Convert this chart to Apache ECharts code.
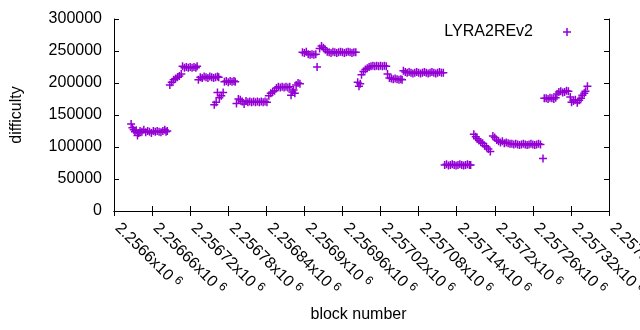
<!DOCTYPE html>
<html><head><meta charset="utf-8">
<script src="https://cdn.jsdelivr.net/npm/echarts@6/dist/echarts.min.js"></script>
<style>html,body{margin:0;padding:0;background:#fff}#c{width:640px;height:330px}</style>
</head><body><div id="c"></div>
<script>
const seriesName = 'LYRA2REv2';
const xTitle = 'block number';
const yTitle = 'difficulty';
const xMin = 2256600, xMax = 2257380, xStep = 60;
const yMin = 0, yMax = 300000, yStep = 50000;

const runA = [[2256627,136000],[2256629,130000],[2256631,127000],[2256633,124000],[2256635,126000],[2256637,118000],[2256639,122000],[2256641,125000],[2256644,124000],[2256647,127000],[2256650,123000],[2256653,125000],[2256656,124000],[2256659,122000],[2256662,125000],[2256665,124000],[2256668,125000],[2256671,124000],[2256674,123000],[2256677,125000],[2256680,127000],[2256682,124000],[2256684,125000]];
const runB = [[2256688,197000],[2256691,201000],[2256694,205000],[2256697,207000],[2256700,209000],[2256703,211000],[2256706,214000]];
const runC = [[2256708,226000],[2256711,224000],[2256714,225000],[2256717,224000],[2256720,225000],[2256723,224000],[2256726,225000],[2256729,224000],[2256731,226000]];
const runD = [[2256733,205000],[2256736,209000],[2256739,208000],[2256742,210000],[2256745,209000],[2256748,208000],[2256751,210000],[2256754,209000],[2256757,208000],[2256760,209000],[2256763,210000],[2256765,209000]];
const runF = [[2256758,166000],[2256761,170000],[2256763,185000],[2256766,177000],[2256769,180000],[2256772,185000]];
const runE = [[2256774,202000],[2256777,203000],[2256780,201000],[2256783,203000],[2256786,202000],[2256789,203000],[2256791,202000]];
const runG = [[2256793,168000],[2256796,175000],[2256799,174000],[2256802,171000],[2256805,167000],[2256808,172000],[2256811,170000],[2256814,171000],[2256817,170000],[2256820,171000],[2256823,170000],[2256826,171000],[2256829,170000],[2256832,171000],[2256835,170000],[2256838,171000],[2256841,170000]];
const runH = [[2256844,180000],[2256847,184000],[2256850,186000],[2256853,188000],[2256856,192000],[2256859,194000],[2256862,193000],[2256865,194000],[2256868,193000],[2256871,194000],[2256874,193000],[2256877,194000]];
const runH2 = [[2256879,181000],[2256881,186000],[2256883,189000],[2256885,184000],[2256887,197000],[2256890,200000],[2256893,199000]];
const runI = [[2256897,248000],[2256900,247000],[2256903,249000],[2256906,245000],[2256909,244000],[2256912,245000],[2256915,244000],[2256918,245000],[2256920,225000],[2256924,254000],[2256927,258000],[2256930,255000],[2256933,252000]];
const runI2 = [[2256936,249000],[2256939,248000],[2256942,247000],[2256945,249000],[2256948,248000],[2256951,247000],[2256954,248000],[2256957,249000],[2256960,248000],[2256963,247000],[2256966,248000],[2256969,249000],[2256972,248000],[2256975,247000],[2256978,248000],[2256981,248000]];
const runJ = [[2256984,201000],[2256986,195000],[2256988,199000]];
const runK = [[2256990,213000],[2256993,218000],[2256996,221000],[2256999,223000],[2257002,225000],[2257005,226000],[2257008,227000],[2257011,226000],[2257014,227000],[2257017,226000],[2257020,227000],[2257023,226000],[2257026,227000],[2257029,226000]];
const runL = [[2257031,214000],[2257034,208000],[2257037,207000],[2257040,206000],[2257043,207000],[2257046,206000],[2257049,205000],[2257052,206000],[2257054,205000]];
const runL2 = [[2257056,219000],[2257059,217000],[2257062,216000],[2257065,217000],[2257068,216000],[2257071,215000],[2257074,216000],[2257077,217000],[2257080,216000],[2257083,215000],[2257086,216000],[2257089,217000],[2257092,216000],[2257095,215000],[2257098,216000],[2257101,217000],[2257104,216000],[2257107,215000],[2257110,216000],[2257113,217000],[2257116,216000],[2257119,216000]];
const runM = [[2257121,72000],[2257124,73000],[2257127,71000],[2257130,72000],[2257133,73000],[2257136,72000],[2257139,71000],[2257142,72000],[2257145,73000],[2257148,72000],[2257151,71000],[2257154,72000],[2257157,73000],[2257160,72000],[2257162,72000]];
const runN = [[2257167,120000],[2257170,116000],[2257172,113000],[2257175,110000],[2257178,108000],[2257181,106000],[2257184,102000],[2257187,100000],[2257190,97000],[2257193,93000],[2257197,117000],[2257200,115000],[2257203,111000],[2257206,109000],[2257209,107000],[2257212,109000],[2257215,106000],[2257218,107000],[2257221,106000],[2257224,105000]];
const runN2 = [[2257227,105000],[2257230,104000],[2257233,105000],[2257236,104000],[2257239,103000],[2257242,104000],[2257245,105000],[2257248,104000],[2257251,103000],[2257254,104000],[2257257,105000],[2257260,104000],[2257263,103000],[2257266,104000],[2257269,105000],[2257272,104000],[2257276,82000]];
const runO = [[2257278,176000],[2257281,176000],[2257284,175000],[2257287,177000],[2257290,176000],[2257293,175000],[2257296,177000],[2257298,183000],[2257301,186000],[2257304,187000],[2257307,185000],[2257310,186000],[2257313,188000],[2257316,187000],[2257319,178000],[2257321,170000],[2257324,172000],[2257327,174000],[2257330,169000],[2257333,173000],[2257336,176000],[2257338,181000],[2257341,184000],[2257343,187000],[2257346,195000]];

const points = [].concat(runA, runB, runC, runD, runF, runE, runG, runH, runH2, runI, runI2, runJ, runK, runL, runL2, runM, runN, runN2, runO);

const FONT = 'Liberation Sans';
const PLUS = 'path://M3.25,0H4.75V3.25H8V4.75H4.75V8H3.25V4.75H0V3.25H3.25Z';
const COLOR = '#9400d3';

function xLabel(v) {
  const s = parseFloat((v / 1e6).toFixed(6)).toString();
  return '{m|' + s + 'x10}{e|6}';
}

const chart = echarts.init(document.getElementById('c'), null, {renderer: 'canvas'});
const tickStyle = {show: true, inside: true, length: 5, lineStyle: {color: '#000', width: 1}};
const lineStyle = {show: true, lineStyle: {color: '#000', width: 1}};
chart.setOption({
  animation: false,
  backgroundColor: '#fff',
  textStyle: {fontFamily: FONT},
  grid: {left: 114, right: 31, top: 19, bottom: 119, containLabel: false, outerBoundsMode: 'none'},
  legend: {
    data: [seriesName], right: 64, top: 19, align: 'right',
    icon: PLUS, itemWidth: 8, itemHeight: 8,
    textStyle: {fontFamily: FONT, fontSize: 16, color: '#000', padding: [0, 25, 0, 0]}
  },
  xAxis: [{
    type: 'value', min: xMin, max: xMax, interval: xStep, position: 'bottom',
    name: xTitle, nameLocation: 'middle', nameGap: 96,
    nameTextStyle: {fontFamily: FONT, fontSize: 16, color: '#000', padding: [0, 6, 0, 0]},
    axisLine: lineStyle, axisTick: tickStyle, splitLine: {show: false},
    axisLabel: {
      rotate: -45, margin: 11, padding: [0, 0, 0, 5], color: '#000', formatter: xLabel,
      showMinLabel: true, showMaxLabel: true, hideOverlap: false,
      rich: {
        m: {fontFamily: FONT, fontSize: 16, color: '#000'},
        e: {fontFamily: FONT, fontSize: 12, color: '#000', padding: [0, 0, 8, 4]}
      }
    }
  }, {
    type: 'value', min: xMin, max: xMax, interval: xStep, position: 'top',
    axisLine: lineStyle, axisTick: tickStyle, axisLabel: {show: false}, splitLine: {show: false}
  }],
  yAxis: [{
    type: 'value', min: yMin, max: yMax, interval: yStep, position: 'left',
    name: yTitle, nameLocation: 'middle', nameGap: 89,
    nameTextStyle: {fontFamily: FONT, fontSize: 16, color: '#000'},
    axisLine: lineStyle, axisTick: tickStyle, splitLine: {show: false},
    axisLabel: {margin: 12, color: '#000', fontFamily: FONT, fontSize: 16, formatter: v => String(v)}
  }, {
    type: 'value', min: yMin, max: yMax, interval: yStep, position: 'right',
    axisLine: lineStyle, axisTick: tickStyle, axisLabel: {show: false}, splitLine: {show: false}
  }],
  series: [{
    name: seriesName, type: 'scatter', data: points,
    symbol: PLUS, symbolSize: 8,
    itemStyle: {color: COLOR, opacity: 1}
  }]
});
</script></body></html>
